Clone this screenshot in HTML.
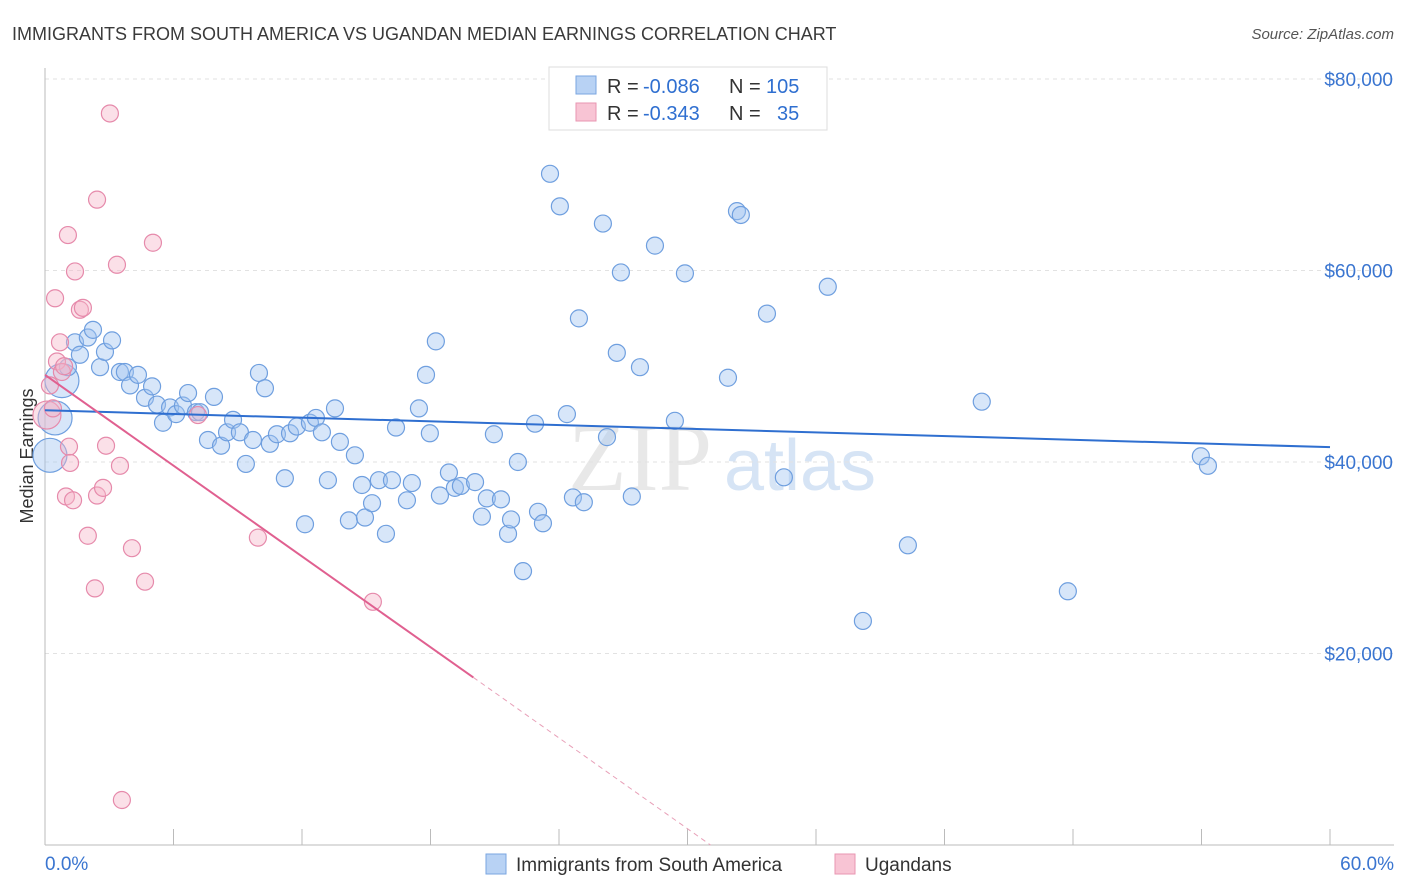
<!DOCTYPE html>
<html><head><meta charset="utf-8">
<style>
body{margin:0;background:#fff;font-family:"Liberation Sans",sans-serif;}
svg{display:block}
</style></head>
<body>
<svg id="chart" width="1406" height="892" viewBox="0 0 1406 892">
<text x="12" y="40" font-size="18" fill="#3a3a3a">IMMIGRANTS FROM SOUTH AMERICA VS UGANDAN MEDIAN EARNINGS CORRELATION CHART</text>
<text x="1394" y="39" font-size="15" fill="#555" text-anchor="end" font-style="italic">Source: ZipAtlas.com</text>
<text transform="translate(33,456) rotate(-90)" font-size="18" fill="#333" text-anchor="middle">Median Earnings</text>
<text x="640" y="490" font-size="96" fill="#e8e8e8" font-family="Liberation Serif,serif" text-anchor="middle">ZIP</text>
<text x="800" y="490" font-size="72" fill="#d6e4f5" text-anchor="middle">atlas</text>
<g id="grid"></g>
<g id="axes"></g>
<g id="points"></g>
<g id="lines"></g>
<g>
<rect x="549" y="67" width="278" height="63" fill="#fff" stroke="#ddd"/>
<rect x="576" y="76" width="20" height="18" fill="#b8d2f4" stroke="#7aa6e0"/>
<rect x="576" y="103" width="20" height="18" fill="#f8c4d4" stroke="#e896b2"/>
<text x="607" y="93" font-size="20" fill="#333">R =</text>
<text x="643" y="93" font-size="20" fill="#2f6fd0">-0.086</text>
<text x="729" y="93" font-size="20" fill="#333">N =</text>
<text x="766" y="93" font-size="20" fill="#2f6fd0">105</text>
<text x="607" y="120" font-size="20" fill="#333">R =</text>
<text x="643" y="120" font-size="20" fill="#2f6fd0">-0.343</text>
<text x="729" y="120" font-size="20" fill="#333">N =</text>
<text x="777" y="120" font-size="20" fill="#2f6fd0">35</text>
</g>
<g>
<rect x="486" y="854" width="20" height="20" fill="#b8d2f4" stroke="#7aa6e0"/>
<text x="516" y="871" font-size="19" fill="#333">Immigrants from South America</text>
<rect x="835" y="854" width="20" height="20" fill="#f8c4d4" stroke="#e896b2"/>
<text x="865" y="871" font-size="19" fill="#333">Ugandans</text>
</g>
</svg>
<script>
const blueX=[0.47,0.23,0.79,1.07,1.4,1.63,2.0,2.24,2.57,2.8,3.13,3.5,3.73,3.97,4.34,4.67,5.0,5.23,5.51,5.84,6.12,6.44,6.68,7.05,7.24,7.61,7.89,8.22,8.5,8.78,9.1,9.38,9.71,9.99,10.27,10.5,10.83,11.2,11.44,11.76,12.14,12.37,12.65,12.93,13.21,13.54,13.77,14.19,14.47,14.8,14.94,15.27,15.59,15.92,16.2,16.39,16.9,17.13,17.46,17.79,17.97,18.25,18.44,18.86,19.14,19.42,20.08,20.4,20.63,20.96,21.29,21.62,21.76,22.08,22.32,22.88,23.02,23.25,23.58,24.04,24.37,24.65,24.93,25.16,26.05,26.24,26.7,26.89,27.4,27.78,28.48,29.41,29.88,31.89,32.31,32.49,33.71,34.5,36.55,38.19,40.29,43.74,47.76,53.97,54.3];
const blueY=[44600,40700,48500,49900,52500,51200,53000,53800,49900,51500,52700,49400,49400,48000,49100,46700,47900,46000,44100,45700,45000,45900,47200,45200,45200,42300,46800,41700,43100,44400,43100,39800,42300,49300,47700,41900,42900,38300,43000,43700,33500,44100,44600,43100,38100,45600,42100,33900,40700,37600,34200,35700,38100,32500,38100,43600,36000,37800,45600,49100,43000,52600,36500,38900,37300,37500,37900,34300,36200,42900,36100,32500,34000,40000,28600,44000,34800,33600,70100,66700,45000,36300,55000,35800,64900,42600,51400,59800,36400,49900,62600,44300,59700,48800,66200,65800,55500,38400,58300,23400,31300,46300,26500,40600,39600];
const pinkX=[0.09,0.23,0.37,0.47,0.56,0.7,0.79,0.89,0.98,1.07,1.12,1.17,1.31,1.4,1.63,1.77,2.0,2.33,2.43,2.43,2.71,2.85,3.03,3.36,3.5,3.59,4.06,4.67,5.04,7.14,9.94,15.31];
const pinkY=[44900,48000,45600,57100,50500,52500,49400,50000,36400,63700,41600,39900,36000,59900,55900,56100,32300,26800,36500,67400,37300,41700,76400,60600,39600,4700,31000,27500,62900,44900,32100,25400];
const yTicks=[20000,40000,60000,80000];
const yTickLabels=["$20,000","$40,000","$60,000","$80,000"];
const xTickVals=[0,6,12,18,24,30,36,42,48,54,60];
const blueTrend=[45400,41550];
const pinkTrend=[49100,17500];
const pinkTrendEndX=20;

const NS="http://www.w3.org/2000/svg";
const X0=45,X1=1330,Y0=845,YTOP=79;
const xs=v=>X0+(v/60)*(X1-X0);
const ys=v=>Y0-(v/80000)*(Y0-YTOP);
function mk(tag,attrs,parent){const e=document.createElementNS(NS,tag);for(const k in attrs)e.setAttribute(k,attrs[k]);parent.appendChild(e);return e;}
const grid=document.getElementById('grid'),axes=document.getElementById('axes'),pts=document.getElementById('points'),lines=document.getElementById('lines');
yTicks.forEach((t,i)=>{
 const l=mk('line',{x1:X0,x2:1394,y1:ys(t),y2:ys(t),stroke:'#e2e2e2','stroke-dasharray':'4,4'},grid);
 
 
 const tx=mk('text',{x:1393,y:ys(t)+7,'font-size':19,fill:'#3a75d0','text-anchor':'end'},axes);
 tx.textContent=yTickLabels[i];
 
 
});
const topLine=mk('line',{x1:X0,x2:1394,y1:YTOP,y2:YTOP,stroke:'#e2e2e2','stroke-dasharray':'4,4'},grid);


const ax=mk('line',{x1:X0,x2:1394,y1:Y0,y2:Y0,stroke:'#bbb'},axes);


const ay=mk('line',{x1:X0,x2:X0,y1:68,y2:Y0,stroke:'#bbb'},axes);


xTickVals.forEach(v=>{
 const t=mk('line',{x1:xs(v),x2:xs(v),y1:Y0,y2:Y0-16,stroke:'#bbb'},axes);
 
 
});
const xl=mk('text',{x:45,y:870,'font-size':19,fill:'#3a75d0'},axes);xl.textContent='0.0%';


const xr=mk('text',{x:1394,y:870,'font-size':19,fill:'#3a75d0','text-anchor':'end'},axes);xr.textContent='60.0%';


blueX.forEach((v,i)=>{
 const c=mk('circle',{cx:xs(v),cy:ys(blueY[i]),r:i<3?17:8.5,fill:'rgba(160,196,240,0.42)',stroke:'#6f9fdf','stroke-width':1.2},pts);
 
 
});
pinkX.forEach((v,i)=>{
 const c=mk('circle',{cx:xs(v),cy:ys(pinkY[i]),r:i<1?14:8.5,fill:'rgba(245,180,200,0.42)',stroke:'#e68aab','stroke-width':1.2},pts);
 
 
});
const bl=mk('line',{x1:xs(0),y1:ys(blueTrend[0]),x2:xs(60),y2:ys(blueTrend[1]),stroke:'#2f6fd0','stroke-width':2},lines);


const slope=(pinkTrend[1]-pinkTrend[0])/pinkTrendEndX;
const zeroX=-pinkTrend[0]/slope;
const pl=mk('line',{x1:xs(0),y1:ys(pinkTrend[0]),x2:xs(pinkTrendEndX),y2:ys(pinkTrend[1]),stroke:'#e06090','stroke-width':2},lines);


const pd=mk('line',{x1:xs(pinkTrendEndX),y1:ys(pinkTrend[1]),x2:xs(zeroX),y2:ys(0),stroke:'#e8a0b8','stroke-width':1,'stroke-dasharray':'5,4'},lines);


</script>
</body></html>
